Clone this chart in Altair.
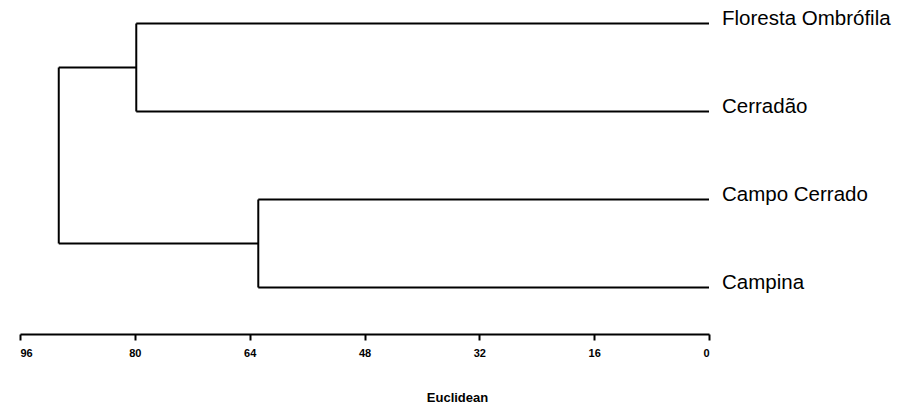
import altair as alt
import pandas as pd

# Leaves (top to bottom) and merge heights (Euclidean distance)
leaves = ["Floresta Ombrófila", "Cerradão", "Campo Cerrado", "Campina"]
leaf_pos = [0, 1, 2, 3]
merge_upper = 79.8   # Floresta Ombrófila + Cerradão
merge_lower = 62.8   # Campo Cerrado + Campina
merge_root = 90.6    # root
tick_values = [96, 80, 64, 48, 32, 16, 0]

# Build dendrogram segments from the tree structure
seg = []
seg.append(dict(x=0, x2=merge_upper, y=leaf_pos[0], y2=leaf_pos[0]))
seg.append(dict(x=0, x2=merge_upper, y=leaf_pos[1], y2=leaf_pos[1]))
seg.append(dict(x=0, x2=merge_lower, y=leaf_pos[2], y2=leaf_pos[2]))
seg.append(dict(x=0, x2=merge_lower, y=leaf_pos[3], y2=leaf_pos[3]))
seg.append(dict(x=merge_upper, x2=merge_upper, y=leaf_pos[0], y2=leaf_pos[1]))
seg.append(dict(x=merge_lower, x2=merge_lower, y=leaf_pos[2], y2=leaf_pos[3]))
up_mid = (leaf_pos[0] + leaf_pos[1]) / 2
lo_mid = (leaf_pos[2] + leaf_pos[3]) / 2
seg.append(dict(x=merge_upper, x2=merge_root, y=up_mid, y2=up_mid))
seg.append(dict(x=merge_lower, x2=merge_root, y=lo_mid, y2=lo_mid))
seg.append(dict(x=merge_root, x2=merge_root, y=up_mid, y2=lo_mid))
segs = pd.DataFrame(seg)

labels = pd.DataFrame({"name": leaves, "pos": leaf_pos, "x": [0] * len(leaves)})

xscale = alt.Scale(domain=[96, 0], nice=False, zero=False)
yscale = alt.Scale(domain=[0, 3], range=[23.5, 287.5])

lines = alt.Chart(segs).mark_rule(color="black", strokeWidth=2).encode(
    x=alt.X("x:Q", scale=xscale,
            axis=alt.Axis(values=tick_values, title="Euclidean", grid=False,
                          domainColor="black", domainWidth=2,
                          tickColor="black", tickWidth=2, tickSize=6,
                          labelFont="Liberation Sans", labelFontSize=11,
                          labelFontWeight="bold", labelColor="black",
                          labelPadding=7,
                          titleFont="Liberation Sans", titleFontSize=13,
                          titleFontWeight="bold", titleColor="black",
                          titleX=437, titleY=63, titleBaseline="middle",
                          titleAlign="center")),
    x2="x2:Q",
    y=alt.Y("y:Q", scale=yscale, axis=None),
    y2="y2:Q",
)

text = alt.Chart(labels).mark_text(
    align="left", baseline="alphabetic", dx=13, dy=1,
    font="Liberation Sans", fontSize=20.5, color="black"
).encode(
    x=alt.X("x:Q", scale=xscale),
    y=alt.Y("pos:Q", scale=yscale),
    text="name:N",
)

chart = alt.layer(lines, text).properties(
    width=689, height=334,
    autosize=alt.AutoSizeParams(type="none"),
    padding={"left": 20, "top": 0, "right": 192, "bottom": 73},
).configure(background="white").configure_view(stroke=None)

chart.save("out.html", embed_options={"renderer": "svg", "actions": False})
